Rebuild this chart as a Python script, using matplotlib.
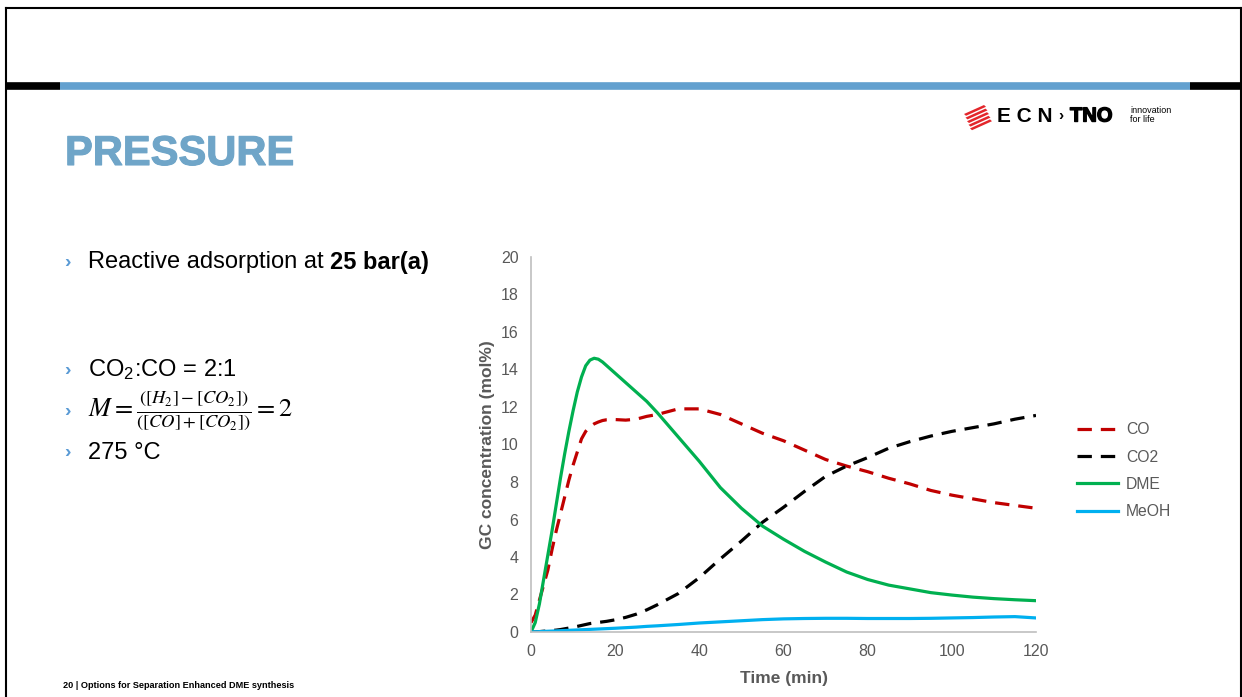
import matplotlib
matplotlib.use("Agg")
import matplotlib.pyplot as plt
import matplotlib.patheffects as pe
from matplotlib.lines import Line2D
from matplotlib.patches import Polygon

# time grid (min)
time_min = [0, 1, 2, 3, 4, 5, 6, 7, 8, 9, 10, 11, 12, 13, 14, 15, 16, 17, 18, 19, 20,
            22.5, 25, 27.5, 30, 35, 40, 45, 50, 55, 60, 65, 70, 75, 80, 85, 90, 95,
            100, 105, 110, 115, 120]

co = [0.5, 0.9, 1.7, 2.5, 3.3, 4.4, 5.4, 6.3, 7.2, 8.1, 8.9, 9.6, 10.3, 10.7, 10.95,
      11.1, 11.2, 11.28, 11.32, 11.33, 11.33,
      11.3, 11.35, 11.5, 11.6, 11.9, 11.9, 11.6, 11.1, 10.6, 10.2, 9.7, 9.2, 8.85,
      8.55, 8.2, 7.9, 7.55, 7.3, 7.1, 6.9, 6.75, 6.6]
co2 = [0.0, 0.0, 0.02, 0.04, 0.06, 0.08, 0.1, 0.13, 0.17, 0.21, 0.25, 0.3, 0.35,
       0.4, 0.45, 0.48, 0.51, 0.54, 0.57, 0.61, 0.65,
       0.78, 0.95, 1.18, 1.45, 2.05, 2.9, 3.9, 4.85, 5.85, 6.65, 7.5, 8.3, 8.85,
       9.3, 9.8, 10.15, 10.45, 10.7, 10.9, 11.1, 11.35, 11.55]
dme = [0.0, 0.5, 1.5, 2.8, 4.1, 5.4, 6.8, 8.2, 9.5, 10.7, 11.8, 12.8, 13.6, 14.2, 14.5,
       14.6, 14.55, 14.4, 14.2, 14.0, 13.8,
       13.3, 12.8, 12.3, 11.7, 10.4, 9.1, 7.7, 6.6, 5.65, 4.95, 4.3, 3.73, 3.2, 2.8,
       2.5, 2.3, 2.1, 1.97, 1.86, 1.78, 1.72, 1.67]
meoh = [0.0, 0.01, 0.02, 0.03, 0.04, 0.05, 0.06, 0.07, 0.08, 0.09, 0.1, 0.11, 0.12,
        0.13, 0.14, 0.15, 0.16, 0.17, 0.18, 0.19, 0.2,
        0.23, 0.26, 0.3, 0.33, 0.4, 0.48, 0.54, 0.6, 0.66, 0.7, 0.72, 0.73, 0.73,
        0.72, 0.72, 0.72, 0.73, 0.75, 0.77, 0.8, 0.82, 0.75]

x_ticks = [0, 20, 40, 60, 80, 100, 120]
y_ticks = [0, 2, 4, 6, 8, 10, 12, 14, 16, 18, 20]

W, H = 1242, 697
fig = plt.figure(figsize=(W / 100, H / 100), dpi=100)
plt.rcParams['font.family'] = ['Liberation Sans', 'DejaVu Sans']
plt.rcParams['mathtext.fontset'] = 'stix'


def fx(px):
    return px / W


def fy(py):
    return 1 - py / H


# slide frame and header bar
fig.add_artist(Line2D([fx(6), fx(6)], [fy(8), 0], color='black', lw=1.5))
fig.add_artist(Line2D([fx(6), fx(1241)], [fy(8), fy(8)], color='black', lw=1.5))
fig.add_artist(Line2D([fx(1241), fx(1241)], [fy(8), 0], color='black', lw=1.5))
fig.add_artist(Line2D([fx(6), fx(60)], [fy(86), fy(86)], color='black', lw=5.5, solid_capstyle='butt'))
fig.add_artist(Line2D([fx(60), fx(1190)], [fy(86), fy(86)], color='#62A0CF', lw=5.5, solid_capstyle='butt'))
fig.add_artist(Line2D([fx(1190), fx(1242)], [fy(86), fy(86)], color='black', lw=5.5, solid_capstyle='butt'))

# title
fig.text(fx(65), fy(154), "PRESSURE", fontsize=30, fontweight='heavy',
         color='#6FA5C8', va='center', ha='left',
         path_effects=[pe.withStroke(linewidth=0.8, foreground='#6FA5C8')])

# logo
for i in range(5):
    y0 = 108 + i * 3.6
    fig.add_artist(Polygon([[fx(964 + i * 1.5), fy(y0 + 6)], [fx(984 + i * 1.5), fy(y0 - 3)],
                            [fx(986 + i * 1.5), fy(y0 - 1.2)], [fx(966 + i * 1.5), fy(y0 + 7.8)]],
                           closed=True, color='#E3262B', lw=0))
fig.text(fx(997), fy(116), "E C N", fontsize=15, fontweight='bold', color='black',
         va='center', ha='left')
fig.text(fx(1058), fy(116), "›", fontsize=11, fontweight='bold', color='black',
         va='center', ha='left')
fig.text(fx(1070), fy(116), "TNO", fontsize=14.5, fontweight='heavy', color='black',
         va='center', ha='left', path_effects=[pe.withStroke(linewidth=1.0, foreground='black')])
fig.text(fx(1130), fy(115), "innovation\nfor life", fontsize=6.5, color='black',
         va='center', ha='left', linespacing=0.9)

# bullets
bullet_col = '#5B9BD5'
fs = 17
for yb in [262, 370, 411, 453]:
    fig.text(fx(64), fy(yb), "›", fontsize=14, fontweight='bold', color=bullet_col,
             va='center', ha='left')
t1 = fig.text(fx(88), fy(262), "Reactive adsorption at ", fontsize=fs, va='center', ha='left')
fig.canvas.draw()
bb = t1.get_window_extent()
fig.text(bb.x1 / W, fy(262), "25 bar(a)", fontsize=fs, fontweight='bold', va='center', ha='left')
fig.text(fx(88), fy(370), r"CO$_\mathregular{2}$:CO = 2:1", fontsize=fs, va='center', ha='left')
fig.text(fx(88), fy(411), r"$M = \frac{([H_2]-[CO_2])}{([CO]+[CO_2])} = 2$",
         fontsize=19, va='center', ha='left')
fig.text(fx(88), fy(453), "275 °C", fontsize=fs, va='center', ha='left')

# footer
fig.text(fx(63), fy(686), "20 | Options for Separation Enhanced DME synthesis",
         fontsize=6.6, fontweight='bold', va='center', ha='left')

# chart
ax = fig.add_axes([fx(531), fy(632), fx(1036) - fx(531), fy(257) - fy(632)])
ax.plot(time_min, co, color='#C00000', lw=2.3, dashes=(4.5, 2.8), label='CO')
ax.plot(time_min, co2, color='black', lw=2.3, dashes=(4.5, 2.8), label='CO2')
ax.plot(time_min, dme, color='#00B050', lw=2.3, label='DME')
ax.plot(time_min, meoh, color='#00B0F0', lw=2.3, label='MeOH')

ax.set_xlim(0, 120)
ax.set_ylim(0, 20)
ax.set_xticks(x_ticks)
ax.set_yticks(y_ticks)
ax.tick_params(length=0, labelsize=11.5, labelcolor='#595959', pad=9)
for s in ['top', 'right']:
    ax.spines[s].set_visible(False)
for s in ['left', 'bottom']:
    ax.spines[s].set_color('#BFBFBF')
    ax.spines[s].set_linewidth(1.2)
ax.set_xlabel("Time (min)", fontsize=12.5, fontweight='bold', color='#595959', labelpad=8)
ax.set_ylabel("GC concentration (mol%)", fontsize=12.5, fontweight='bold', color='#595959', labelpad=4)

leg = ax.legend(loc='center left', bbox_to_anchor=(1.054, 0.43), frameon=False,
                fontsize=11.3, handlelength=2.6, labelspacing=0.78, handletextpad=0.5)
for t in leg.get_texts():
    t.set_color('#595959')

fig.savefig("out.png", dpi=100)
